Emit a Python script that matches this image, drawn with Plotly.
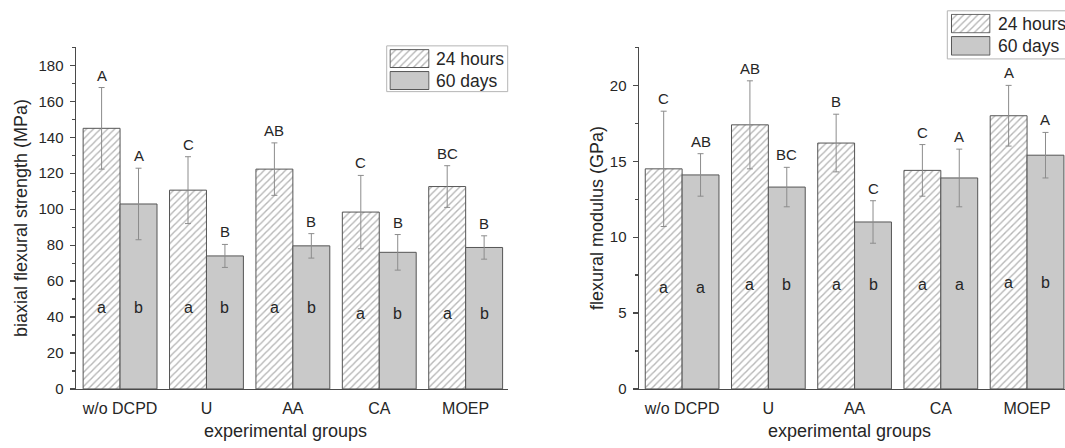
import plotly.graph_objects as go

# ---------------- data ----------------
groups = ["w/o DCPD", "U", "AA", "CA", "MOEP"]
series_names = ["24 hours", "60 days"]

bfs_24h = [145.0, 110.6, 122.3, 98.4, 112.6]
bfs_24h_sd = [22.7, 18.6, 14.6, 20.4, 11.6]
bfs_60d = [102.9, 74.0, 79.6, 76.0, 78.7]
bfs_60d_sd = [19.9, 6.4, 6.8, 9.9, 6.5]

fm_24h = [14.5, 17.4, 16.2, 14.4, 18.0]
fm_24h_sd = [3.8, 2.9, 1.9, 1.7, 2.0]
fm_60d = [14.1, 13.3, 11.0, 13.9, 15.4]
fm_60d_sd = [1.4, 1.3, 1.4, 1.9, 1.5]

bfs_upper_24h = ["A", "C", "AB", "C", "BC"]
bfs_upper_60d = ["A", "B", "B", "B", "B"]
bfs_lower_24h = ["a", "a", "a", "a", "a"]
bfs_lower_60d = ["b", "b", "b", "b", "b"]
bfs_lower_y = [45.5, 45.5, 45.5, 42.0, 42.0]

fm_upper_24h = ["C", "AB", "B", "C", "A"]
fm_upper_60d = ["AB", "BC", "C", "A", "A"]
fm_lower_24h = ["a", "a", "a", "a", "a"]
fm_lower_60d = ["a", "b", "b", "a", "b"]
fm_lower_y = [6.7, 6.85, 6.85, 6.85, 7.0]

# ---------------- style ----------------
W, H = 1065, 448
FONT = "Liberation Sans, Arial, Helvetica, sans-serif"
TXT = "#262626"
AXC = "#4a4a4a"
BARLINE = "#555555"
GRAYFILL = "#c9c9c9"
BARGAP = 0.145

hatch_marker = dict(color="white", line=dict(color=BARLINE, width=1),
                    pattern=dict(shape="/", fgcolor="#6e6e6e", bgcolor="white",
                                 size=5, solidity=0.28))
gray_marker = dict(color=GRAYFILL, line=dict(color=BARLINE, width=1))
err_style = dict(type="data", color="#8c8c8c", thickness=1, width=3, visible=True)


def px_x(v):
    return v / W


def px_y(v):
    return 1 - v / H


fig = go.Figure()

panels = [
    dict(xa="x", ya="y", v24=bfs_24h, s24=bfs_24h_sd, v60=bfs_60d, s60=bfs_60d_sd,
         up24=bfs_upper_24h, up60=bfs_upper_60d, lo24=bfs_lower_24h, lo60=bfs_lower_60d,
         loy=bfs_lower_y),
    dict(xa="x2", ya="y2", v24=fm_24h, s24=fm_24h_sd, v60=fm_60d, s60=fm_60d_sd,
         up24=fm_upper_24h, up60=fm_upper_60d, lo24=fm_lower_24h, lo60=fm_lower_60d,
         loy=fm_lower_y),
]

annotations = []
half = (1 - BARGAP) / 4.0
for p in panels:
    fig.add_trace(go.Bar(x=groups, y=p["v24"], name=series_names[0], xaxis=p["xa"], yaxis=p["ya"],
                         marker=hatch_marker, error_y=dict(array=p["s24"], **err_style),
                         showlegend=False))
    fig.add_trace(go.Bar(x=groups, y=p["v60"], name=series_names[1], xaxis=p["xa"], yaxis=p["ya"],
                         marker=gray_marker, error_y=dict(array=p["s60"], **err_style),
                         showlegend=False))
    for i in range(len(groups)):
        for off, vals, sds, up, lo in ((-half, p["v24"], p["s24"], p["up24"], p["lo24"]),
                                       (half, p["v60"], p["s60"], p["up60"], p["lo60"])):
            annotations.append(dict(x=i + off, y=vals[i] + sds[i], xref=p["xa"], yref=p["ya"],
                                    text=up[i], showarrow=False, yanchor="bottom", yshift=2,
                                    font=dict(family=FONT, size=15, color=TXT)))
            annotations.append(dict(x=i + off, y=p["loy"][i], xref=p["xa"], yref=p["ya"],
                                    text=lo[i], showarrow=False, yanchor="middle",
                                    font=dict(family=FONT, size=16, color=TXT)))

# ---------------- legend swatches (drawn on tiny hidden axes) ----------------
legend_boxes = [
    dict(box=(386.7, 46.7, 507.7, 93.3), sw_x=(389.3, 429.7),
         sw_y=[(50.0, 69.3), (72.3, 91.7)], tx=434.0),
    dict(box=(947.3, 11.0, 1068.0, 60.0), sw_x=(950.7, 990.7),
         sw_y=[(14.0, 34.0), (36.7, 56.7)], tx=996.0),
]
shapes = []
extra_axes = {}
ax_n = 3
for lb in legend_boxes:
    x0, y0, x1, y1 = lb["box"]
    shapes.append(dict(type="rect", xref="paper", yref="paper",
                       x0=px_x(x0), x1=px_x(x1), y0=px_y(y1), y1=px_y(y0),
                       line=dict(color="#b5b5b5", width=1), fillcolor="rgba(0,0,0,0)"))
    for k, (sy0, sy1) in enumerate(lb["sw_y"]):
        xa, ya = f"x{ax_n}", f"y{ax_n}"
        fig.add_trace(go.Bar(x=[0], y=[1], width=[1], xaxis=xa, yaxis=ya,
                             marker=hatch_marker if k == 0 else gray_marker,
                             showlegend=False, hoverinfo="skip"))
        extra_axes[f"xaxis{ax_n}"] = dict(domain=[px_x(lb["sw_x"][0]), px_x(lb["sw_x"][1])],
                                          range=[-0.52, 0.52], visible=False, anchor=ya,
                                          fixedrange=True)
        extra_axes[f"yaxis{ax_n}"] = dict(domain=[px_y(sy1), px_y(sy0)], range=[-0.03, 1.03],
                                          visible=False, anchor=xa, fixedrange=True)
        annotations.append(dict(x=px_x(lb["tx"]), y=px_y((sy0 + sy1) / 2), xref="paper",
                                yref="paper", text=series_names[k], showarrow=False,
                                xanchor="left", yanchor="middle",
                                font=dict(family=FONT, size=17.5, color=TXT)))
        ax_n += 1

# ---------------- axis titles ----------------
title_font = dict(family=FONT, size=18, color=TXT)
annotations += [
    dict(x=px_x(285), y=px_y(439), xref="paper", yref="paper", text="experimental groups",
         showarrow=False, xanchor="center", yanchor="middle", font=title_font),
    dict(x=px_x(849), y=px_y(439), xref="paper", yref="paper", text="experimental groups",
         showarrow=False, xanchor="center", yanchor="middle", font=title_font),
    dict(x=px_x(21), y=px_y(222), xref="paper", yref="paper",
         text="biaxial flexural strength (MPa)", textangle=-90,
         showarrow=False, xanchor="center", yanchor="middle", font=title_font),
    dict(x=px_x(597), y=px_y(222), xref="paper", yref="paper",
         text="flexural modulus (GPa)", textangle=-90,
         showarrow=False, xanchor="center", yanchor="middle", font=title_font),
]

ydom = [px_y(396), px_y(48.3)]
common_x = dict(type="category", showline=True, linecolor=AXC, linewidth=1.5, ticks="",
                showgrid=False, zeroline=False, ticklabelstandoff=4,
                tickfont=dict(family=FONT, size=16, color=TXT), fixedrange=True)
common_y = dict(showline=True, linecolor=AXC, linewidth=1.5, ticks="outside", ticklen=5,
                tickcolor=AXC, tickwidth=1.2, showgrid=False, zeroline=False,
                tickfont=dict(family=FONT, size=15, color=TXT), domain=ydom,
                ticklabelstandoff=3, fixedrange=True)

fig.update_layout(
    width=W, height=H,
    margin=dict(l=0, r=0, t=0, b=0),
    paper_bgcolor="white", plot_bgcolor="white",
    barmode="group", bargap=BARGAP, bargroupgap=0,
    xaxis=dict(domain=[px_x(76), px_x(508)], range=[-0.51, 4.49], anchor="y", **common_x),
    yaxis=dict(range=[0, 190], dtick=20, anchor="x",
               minor=dict(dtick=10, ticks="outside", ticklen=3, tickcolor=AXC), **common_y),
    xaxis2=dict(domain=[px_x(639), 1.0], range=[-0.5, 4.44], anchor="y2", **common_x),
    yaxis2=dict(range=[0, 22.5], dtick=5, anchor="x2",
                minor=dict(dtick=2.5, ticks="outside", ticklen=3, tickcolor=AXC), **common_y),
    annotations=annotations,
    shapes=shapes,
    showlegend=False,
    hovermode=False,
    **extra_axes,
)

fig.write_html("out.html",
               config={"displayModeBar": False, "staticPlot": True},
               post_script="document.body.style.margin='0';document.body.style.overflow='hidden';")
